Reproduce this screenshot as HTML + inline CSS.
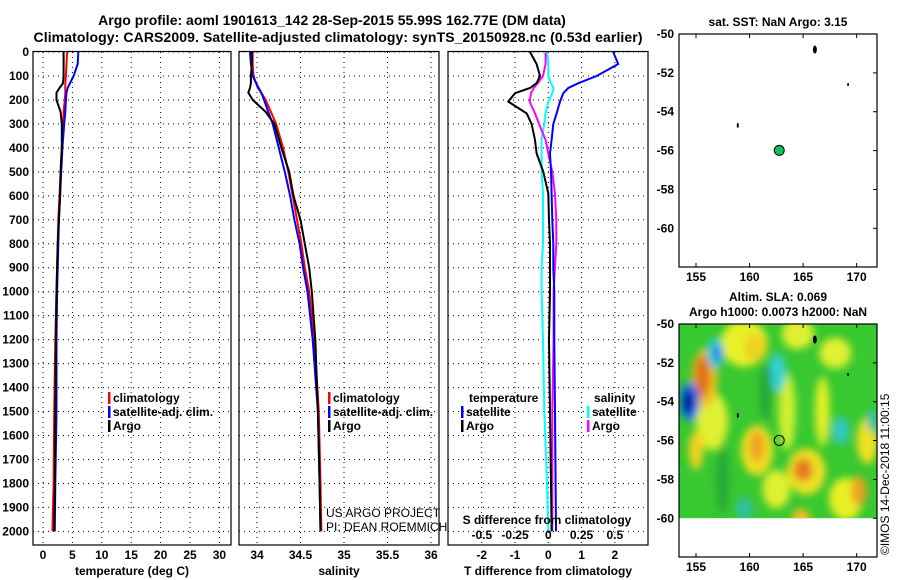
<!DOCTYPE html>
<html><head><meta charset="utf-8"><style>
html,body{margin:0;padding:0;background:#fff;width:900px;height:580px;overflow:hidden}
svg text{font-family:"Liberation Sans",Arial,sans-serif}
.b{font-weight:bold;font-size:12px}
</style></head><body>
<svg id="c" width="900" height="580" xmlns="http://www.w3.org/2000/svg">
<text x="332" y="25" text-anchor="middle" font-size="14" font-weight="bold">Argo profile: aoml 1901613_142 28-Sep-2015 55.99S 162.77E (DM data)</text>
<text x="338" y="42" text-anchor="middle" font-size="14" font-weight="bold" textLength="609">Climatology: CARS2009. Satellite-adjusted climatology: synTS_20150928.nc (0.53d earlier)</text>
</svg>
<script>
// ---- data ----
const depthTicks=[0,100,200,300,400,500,600,700,800,900,1000,1100,1200,1300,1400,1500,1600,1700,1800,1900,2000];
const tempTicks=[0,5,10,15,20,25,30];
const salTicks=[34,34.5,35,35.5,36];
const tdiffTicks=[-2,-1,0,1,2];
const sdiffTicks=[-0.5,-0.25,0,0.25,0.5];
const profDepths=[0,50,100,130,150,170,200,250,300,400,500,600,700,800,900,1000,1200,1500,1800,2000];
const tempArgo=[3.5,3.5,3.5,3.4,2.8,2.3,2.3,3.0,3.2,3.2,3.0,2.9,2.7,2.5,2.4,2.3,2.2,2.1,2.0,1.9];
const tempClim=[4.1,4.0,3.9,3.8,3.8,3.8,3.7,3.5,3.4,3.2,3.0,2.8,2.6,2.5,2.4,2.3,2.1,1.9,1.8,1.6];
const tempSat=[6.0,5.9,5.2,4.6,4.2,4.0,3.9,3.8,3.6,3.3,3.1,2.9,2.7,2.6,2.5,2.4,2.3,2.3,2.1,2.0];
const salArgo=[33.94,33.94,33.93,33.93,33.92,33.9,33.95,34.1,34.2,34.28,34.37,34.42,34.5,34.55,34.6,34.63,34.67,34.7,34.72,34.73];
const salClim=[33.95,33.95,33.96,33.99,34.01,34.05,34.1,34.16,34.22,34.3,34.36,34.41,34.46,34.51,34.55,34.6,34.66,34.71,34.73,34.74];
const salSat=[33.92,33.93,33.95,33.99,34.02,34.05,34.08,34.13,34.18,34.25,34.32,34.38,34.43,34.49,34.53,34.58,34.64,34.7,34.72,34.73];
const diffDepths=[0,50,100,130,150,172,207,256,300,367,423,500,590,700,800,900,1000,1200,1500,1800,2000];
const tdiffArgo=[-0.55,-0.35,-0.25,-0.35,-0.55,-1.0,-1.2,-0.65,-0.5,-0.4,-0.35,-0.15,0,0.02,0.05,0.05,0.05,0.02,0.05,0.08,0.1];
const tdiffSat=[1.95,2.1,1.45,0.9,0.6,0.45,0.35,0.25,0.15,0.1,0.05,0.08,0.1,0.12,0.15,0.15,0.18,0.18,0.2,0.22,0.23];
const sdiffArgo=[-0.02,-0.02,-0.04,-0.08,-0.11,-0.13,-0.14,-0.1,-0.07,-0.02,0.0,0.03,0.05,0.06,0.06,0.05,0.04,0.04,0.03,0.03,0.03];
const sdiffSat=[-0.01,0.0,0.0,0.02,0.04,0.03,0.0,-0.02,-0.03,-0.05,-0.05,-0.05,-0.04,-0.04,-0.04,-0.05,-0.05,-0.04,-0.03,-0.01,0.0];
const lonTicks=[155,160,165,170];
const latTicks=[-50,-52,-54,-56,-58,-60];
const floatLon=162.77, floatLat=-55.99;
const slaBlobs=[
[159.5,-51,2.2,1.2,'#e8f028'],[160.5,-51.2,1.0,0.7,'#f0d020'],[164.5,-50.5,1.5,0.8,'#e0f030'],
[163.5,-54.5,0.8,2.0,'#d0f030'],[166.8,-54.5,0.7,1.8,'#e0f028'],[156.5,-55,1.5,1.5,'#e0f030'],
[155.8,-52.8,1.2,1.5,'#f0c020'],[155.6,-52.7,0.7,1.1,'#e07018'],
[154.4,-54,0.9,1.0,'#1070f0'],[154.3,-54,0.5,0.6,'#000090'],[156.8,-51.5,0.8,0.8,'#30c8d0'],[157,-51.5,0.4,0.4,'#1080f0'],
[162.6,-52.5,0.8,1.0,'#30d0d0'],[160.7,-56.5,1.5,1.3,'#f0e020'],[160.7,-56.3,0.7,0.8,'#f0a020'],
[155,-56.5,0.7,1.0,'#f0d020'],[165.3,-57.6,1.8,1.2,'#f0e020'],[165,-57.5,0.9,0.6,'#e87820'],
[168.5,-55.5,0.8,0.7,'#30c8c8'],[169,-59,1.6,1.1,'#e8f020'],[170.2,-58.6,0.7,0.8,'#f0a020'],[171,-56,1.0,1.2,'#f0e020'],
[159.5,-59.5,0.8,0.6,'#30c0a0'],[162.5,-58.5,1.3,1.0,'#e0f030'],[157.5,-58,0.6,1.8,'#28a838'],[161.5,-53.5,0.6,1.5,'#28a838'],
[168,-51.5,1.5,0.8,'#e0f030'],[164.8,-60,0.9,0.5,'#f0c020'],[171.5,-55,0.5,0.6,'#30c0b0']];
// ---- helpers ----
const NS='http://www.w3.org/2000/svg', svg=document.getElementById('c');
function el(t,a,txt){const e=document.createElementNS(NS,t);for(const k in a)e.setAttribute(k,a[k]);if(txt!==undefined)e.textContent=txt;svg.appendChild(e);return e;}
const Y=d=>52+d*0.2397;
const BOT=545;
function panel(name,x0,x1,xs,ticks,lab,labelFmt){
  const g=el('rect',{x:x0,y:Y(0)-0.5,width:x1-x0,height:BOT-Y(0)+0.5,fill:'none',stroke:'#000','stroke-width':1.2});
  
  depthTicks.forEach(d=>{const l=el('line',{x1:x0,x2:x1,y1:Y(d),y2:Y(d),stroke:'#000','stroke-dasharray':'1,4','stroke-width':1});
    });
  ticks.forEach(v=>{const x=xs(v);const l=el('line',{x1:x,x2:x,y1:Y(0),y2:BOT,stroke:'#000','stroke-dasharray':'1,4','stroke-width':1});
    
    const t=el('text',{x:x,y:559,'text-anchor':'middle',class:'b'},labelFmt(v));
    });
  const t=el('text',{x:(x0+x1)/2,y:575,'text-anchor':'middle',class:'b'},lab);
  
}
function line(name,depths,vals,xs,color){
  let pts=[];for(let i=0;i<depths.length;i++){pts.push(xs(vals[i]).toFixed(1)+','+Y(depths[i]).toFixed(1));}
  const p=el('polyline',{points:pts.join(' '),fill:'none',stroke:color,'stroke-width':2});
  
}
function legend(name,x,y,color,txt){
  const r=el('rect',{x:x,y:y-10,width:2.5,height:12,fill:color});
  
  const t=el('text',{x:x+5,y:y,class:'b'},txt);
  
}
depthTicks.forEach(d=>{const t=el('text',{x:29,y:Y(d)+4,'text-anchor':'end',class:'b'},String(d));
  });
const xT=v=>43+v*5.88;
panel('temperature-panel',33,231,xT,tempTicks,'temperature (deg C)',v=>String(v));
line('temp-climatology-line',profDepths,tempClim,xT,'#f00');
line('temp-satellite-line',profDepths,tempSat,xT,'#00f');
line('temp-argo-line',profDepths,tempArgo,xT,'#000');
legend('legend-climatology',108,402,'#f00','climatology');
legend('legend-satellite-adj-clim',108,416,'#00f','satellite-adj. clim.');
legend('legend-argo',108,430,'#000','Argo');
const xS=v=>257+(v-34)*87;
panel('salinity-panel',239,439,xS,salTicks,'salinity',v=>String(v));
line('sal-climatology-line',profDepths,salClim,xS,'#f00');
line('sal-satellite-line',profDepths,salSat,xS,'#00f');
line('sal-argo-line',profDepths,salArgo,xS,'#000');
legend('sal-legend-climatology',328,402,'#f00','climatology');
legend('sal-legend-satellite-adj-clim',328,416,'#00f','satellite-adj. clim.');
legend('sal-legend-argo',328,430,'#000','Argo');
let t1=el('text',{x:326,y:517,'font-size':12},'US ARGO PROJECT');
let t2=el('text',{x:326,y:531,'font-size':12},'PI: DEAN ROEMMICH');
const xD=v=>548.3+v*33.3, xSD=v=>548.3+v*133;
panel('difference-panel',448,648,xD,tdiffTicks,'T difference from climatology',v=>String(v));
line('sdiff-satellite-line',diffDepths,sdiffSat,xSD,'#0ff');
line('sdiff-argo-line',diffDepths,sdiffArgo,xSD,'#f0f');
line('tdiff-argo-line',diffDepths,tdiffArgo,xD,'#000');
line('tdiff-satellite-line',diffDepths,tdiffSat,xD,'#00f');
let tt=el('text',{x:469,y:402,class:'b'},'temperature');
let ts=el('text',{x:594,y:402,class:'b'},'salinity');
legend('diff-legend-t-satellite',461,416,'#00f','satellite');
legend('diff-legend-t-argo',461,430,'#000','Argo');
legend('diff-legend-s-satellite',587,416,'#0ff','satellite');
legend('diff-legend-s-argo',587,430,'#f0f','Argo');
let sl=el('text',{x:547,y:524,'text-anchor':'middle',class:'b'},'S difference from climatology');
sdiffTicks.forEach(v=>{const t=el('text',{x:xSD(v),y:539,'text-anchor':'middle',class:'b'},String(v));
  });
const mx=lon=>696+(lon-155)*10.71;
function map(name,top,title1,title2,colored){
  const my=lat=>top+(-50-lat)*19.43;
  if(colored){
    const defs=el('defs',{});
    defs.innerHTML='<filter id="bl" x="-50%" y="-50%" width="200%" height="200%"><feGaussianBlur stdDeviation="4"/></filter><clipPath id="cp"><rect x="679" y="'+top+'" width="198" height="'+(my(-60)-top)+'"/></clipPath>';
    const g=el('g',{'clip-path':'url(#cp)'});
    const bg=document.createElementNS(NS,'rect');bg.setAttribute('x',679);bg.setAttribute('y',top);bg.setAttribute('width',198);bg.setAttribute('height',my(-60)-top);bg.setAttribute('fill','#38c830');g.appendChild(bg);
    const gb=document.createElementNS(NS,'g');gb.setAttribute('filter','url(#bl)');g.appendChild(gb);
    slaBlobs.forEach(b=>{const e=document.createElementNS(NS,'ellipse');e.setAttribute('cx',mx(b[0]));e.setAttribute('cy',my(b[1]));e.setAttribute('rx',b[2]*10.7);e.setAttribute('ry',b[3]*19.4);e.setAttribute('fill',b[4]);
      gb.appendChild(e);});
  }
  const fr=el('rect',{x:679,y:top,width:198,height:233,fill:'none',stroke:'#000','stroke-width':1.2});
  
  lonTicks.forEach(v=>{const t=el('text',{x:mx(v),y:top+247,'text-anchor':'middle',class:'b'},String(v));
    
    el('line',{x1:mx(v),x2:mx(v),y1:top,y2:top+4,stroke:'#000'});el('line',{x1:mx(v),x2:mx(v),y1:top+233,y2:top+229,stroke:'#000'});});
  latTicks.forEach(v=>{const t=el('text',{x:674,y:my(v)+4,'text-anchor':'end',class:'b'},String(v));
    
    el('line',{x1:873,x2:877,y1:my(v),y2:my(v),stroke:'#000'});});
  [[166.1,-50.8,2,4],[169.2,-52.6,1,1.5],[158.9,-54.7,1,2.5]].forEach(p=>{const e=el('ellipse',{cx:mx(p[0]),cy:my(p[1]),rx:p[2],ry:p[3],fill:'#000'});
    });
  const m=el('circle',{cx:mx(floatLon),cy:my(floatLat),r:5,fill:colored?'none':'#10c060',stroke:'#000','stroke-width':1});
  
  const a=el('text',{x:778,y:title2?top-23:top-8,'text-anchor':'middle',class:'b'},title1);
  
  if(title2){const b=el('text',{x:778,y:top-8,'text-anchor':'middle',class:'b'},title2);}
}
map('sst-map',34,'sat. SST: NaN Argo: 3.15',null,false);
map('sla-map',324,'Altim. SLA: 0.069','Argo h1000: 0.0073 h2000: NaN',true);
const cr=el('text',{x:0,y:0,'font-size':12,transform:'translate(889,555) rotate(-90)'},'©IMOS 14-Dec-2018 11:00:15');

</script>
</body></html>
